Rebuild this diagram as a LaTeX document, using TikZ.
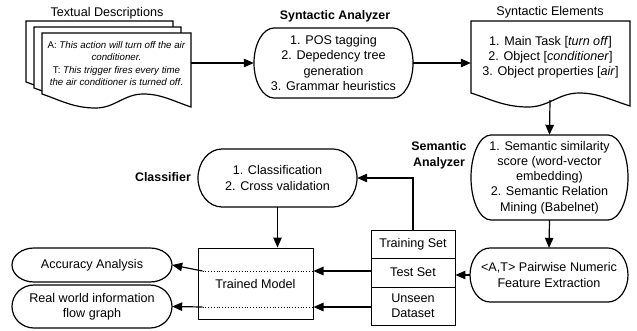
\documentclass[tikz,border=0pt]{standalone}
\usepackage{fontspec}
\setmainfont{Liberation Sans}
\usetikzlibrary{arrows.meta,calc}
\tikzset{
  outline/.style={draw=black,line width=1.2pt,fill=white},
  txt/.style={inner sep=0pt,align=center,font=\fontsize{12.6}{15.2}\selectfont},
  small/.style={inner sep=0pt,align=center,font=\fontsize{9.7}{12.3}\selectfont},
  ttl/.style={inner sep=0pt,font=\fontsize{12.6}{15}\selectfont},
  bttl/.style={inner sep=0pt,align=center,font=\fontsize{12.4}{16}\selectfont\bfseries},
  arr/.style={line width=1.2pt,-{Triangle[length=10pt,width=8.5pt]}},
  cell/.style={draw,line width=0.9pt,inner sep=0pt,align=center,font=\fontsize{12.6}{15}\selectfont},
  boxstyle/.style={draw,line width=1pt,inner sep=0pt,align=center,font=\fontsize{12.6}{15}\selectfont},
  dotline/.style={dotted,line width=0.8pt},
}
% stadium (terminator) outline with elliptical ends
\newcommand\stadshape[5]{%
  \pgfmathsetmacro\stYm{(#2+#4)/2}%
  \pgfmathsetmacro\stHy{(#4-#2)/2}%
  \pgfmathsetmacro\stKx{0.5523*#5}%
  \pgfmathsetmacro\stKy{0.5523*\stHy}%
  \pgfmathsetmacro\stXl{#1+#5}%
  \pgfmathsetmacro\stXr{#3-#5}%
  \draw[outline] (\stXl,#2) -- (\stXr,#2)
    .. controls ({\stXr+\stKx},#2) and (#3,{\stYm-\stKy}) .. (#3,\stYm)
    .. controls (#3,{\stYm+\stKy}) and ({\stXr+\stKx},#4) .. (\stXr,#4)
    -- (\stXl,#4)
    .. controls ({\stXl-\stKx},#4) and (#1,{\stYm+\stKy}) .. (#1,\stYm)
    .. controls (#1,{\stYm-\stKy}) and ({\stXl-\stKx},#2) .. cycle;}
\newcommand\stadnode[7]{%
  \stadshape{#2}{#3}{#4}{#5}{#6}
  \node[txt,minimum width={#4-#2},minimum height={#5-#3}] (#1) at ({(#2+#4)/2},{(#3+#5)/2}) {#7};}
% document outline with wavy bottom: x1 ytop x2 ybottomleft
\newcommand\docshape[4]{%
  \pgfmathsetmacro\dW{#3-#1}%
  \pgfmathsetmacro\dTx{#1+0.36*\dW}%
  \pgfmathsetmacro\dCx{#1+0.68*\dW}%
  \draw[outline] (#1,#2) -- (#3,#2) -- (#3,{#4+13})
    .. controls ({#3-0.12*\dW},{#4+7}) and ({\dCx+0.12*\dW},#4) .. (\dCx,#4)
    .. controls ({\dCx-0.13*\dW},#4) and ({\dTx+0.13*\dW},{#4+14}) .. (\dTx,{#4+14})
    .. controls ({\dTx-0.15*\dW},{#4+14}) and ({#1+0.12*\dW},{#4+6}) .. (#1,#4) -- cycle;}
\begin{document}
\begin{tikzpicture}[x=1pt,y=-1pt]
\useasboundingbox[fill=white] (0,0) rectangle (637,330);

% ---- Textual descriptions (stacked documents)
\node[ttl] (tdt) at (107,13) {Textual Descriptions};
\docshape{26}{21}{173}{82}
\docshape{34}{27}{181}{88}
\docshape{42}{33}{191}{94}
\node[small,minimum width=149,minimum height=61] (docA) at (116.5,63.5)
  {A: \textit{This action will turn off the air}\\ \textit{conditioner.}\\
   T: \textit{This trigger fires every time}\\ \textit{the air conditioner is turned off}.};

% ---- Syntactic analyzer
\node[bttl] (syt) at (335,16) {Syntactic Analyzer};
\stadnode{syn}{254}{28}{413}{98}{20}{1. POS tagging\\2. Depedency tree\\generation\\3. Grammar heuristics}

% ---- Syntactic elements
\node[ttl] (set) at (550,12) {Syntactic Elements};
\docshape{471}{21}{630}{93}
\node[txt,minimum width=159,minimum height=72] (synel) at (550.5,57)
  {1. Main Task [\textit{turn off}]\\2. Object [\textit{conditioner}]\\3. Object properties [\textit{air}]};
\coordinate (synelbot) at (550,100);

% ---- Semantic analyzer
\node[bttl] (semt) at (439,155) {Semantic\\Analyzer};
\stadnode{sem}{471}{135}{628}{220}{20}{1. Semantic similarity\\score (word-vector\\embedding)\\2. Semantic Relation\\Mining (Babelnet)}

% ---- Pairwise features
\stadnode{pw}{470}{248}{628}{302}{20}{<A,T> Pairwise Numeric\\Feature Extraction}

% ---- Data sets table
\node[cell,minimum width=84,minimum height=28] (train) at (413,244) {Training Set};
\node[cell,minimum width=84,minimum height=29] (test) at (413,272.5) {Test Set};
\node[cell,minimum width=84,minimum height=38] (unseen) at (413,306) {Unseen\\Dataset};
\coordinate (tin) at ([yshift=1.5pt]test.west);
\coordinate (uin) at ([yshift=-1pt]unseen.west);

% ---- Classifier
\node[bttl] (clst) at (163,177) {Classifier};
\stadnode{cls}{198}{149}{357}{207}{24}{1. Classification\\2. Cross validation}

% ---- Trained model
\node[boxstyle,minimum width=115,minimum height=71] (model) at (255.5,283.5) {Trained Model};
\coordinate (d1) at ([xshift=5pt]model.west |- tin);
\coordinate (d2) at ([xshift=5pt]model.west |- uin);
\draw[dotline] (d1) -- (model.east |- tin);
\draw[dotline] (d2) -- (model.east |- uin);

% ---- Outputs
\stadnode{acc}{12}{248}{172}{282}{22}{Accuracy Analysis}
\stadnode{rw}{12}{285}{172}{328}{22}{Real world information\\flow graph}

% ---- Connectors
\draw[arr] (docA.east |- syn.west) -- (syn.west);
\draw[arr] (syn.east) -- (syn.east -| synel.west);
\draw[arr] (synelbot) -- (sem.north);
\draw[arr] (sem.south) -- (pw.north);
\draw[arr] (pw.west) -- (pw.west -| test.east);
\draw[arr] (train.north) |- (cls.east);
\draw[arr] (cls.south) -- (cls.south |- model.north);
\draw[arr] (tin) -- (tin -| model.east);
\draw[arr] (uin) -- (uin -| model.east);
\draw[arr] (d1) -- (acc.east);
\draw[arr] (d2) -- (rw.east);
\end{tikzpicture}
\end{document}
